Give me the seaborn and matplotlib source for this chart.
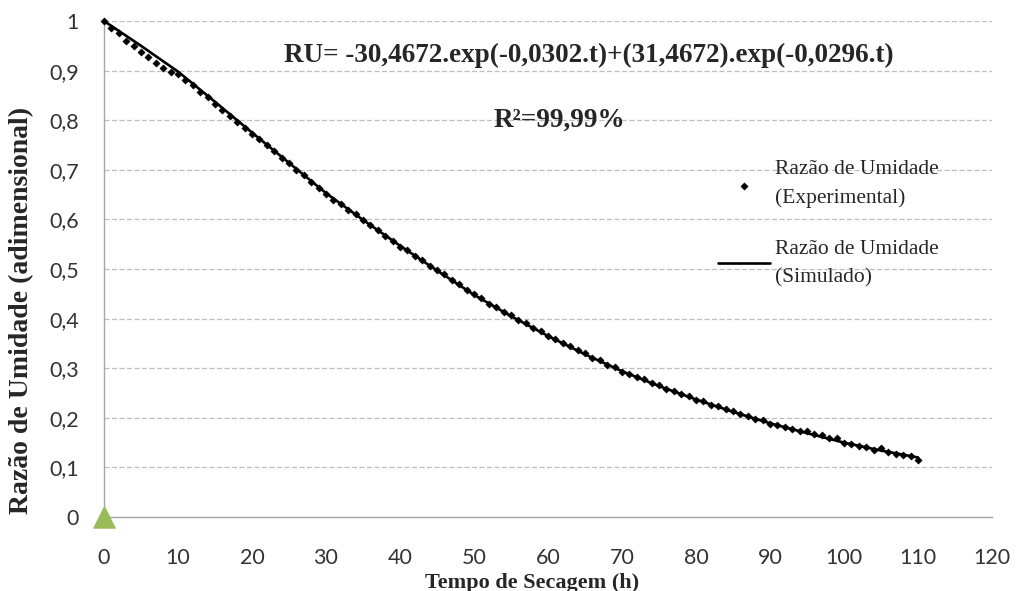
import numpy as np
import pandas as pd
import matplotlib
matplotlib.use("Agg")
import matplotlib.pyplot as plt
import seaborn as sns

# Experimental moisture ratio, one reading per hour (0..110 h)
exp_time = list(range(0, 111))
exp_ru = [
    1.000, 0.985, 0.975, 0.960, 0.950, 0.938, 0.928, 0.915, 0.906, 0.898,
    0.893, 0.882, 0.870, 0.857, 0.846, 0.833, 0.821, 0.809, 0.797, 0.785,
    0.773, 0.762, 0.749, 0.737, 0.724, 0.713, 0.700, 0.689, 0.676, 0.664,
    0.652, 0.640, 0.631, 0.619, 0.610, 0.598, 0.588, 0.578, 0.566, 0.557,
    0.545, 0.538, 0.526, 0.518, 0.506, 0.497, 0.489, 0.477, 0.469, 0.457,
    0.449, 0.441, 0.430, 0.424, 0.414, 0.408, 0.397, 0.391, 0.381, 0.374,
    0.364, 0.359, 0.350, 0.345, 0.336, 0.331, 0.321, 0.316, 0.307, 0.302,
    0.293, 0.289, 0.282, 0.278, 0.270, 0.267, 0.259, 0.255, 0.247, 0.244,
    0.236, 0.233, 0.226, 0.224, 0.217, 0.214, 0.207, 0.204, 0.198, 0.195,
    0.188, 0.186, 0.181, 0.178, 0.173, 0.174, 0.168, 0.166, 0.160, 0.159,
    0.149, 0.148, 0.143, 0.141, 0.136, 0.139, 0.131, 0.127, 0.125, 0.123,
    0.114,
]

# Simulated curve
sim_time = [0, 5, 10, 15, 20, 25, 30, 35, 40, 45, 50, 55,
            60, 65, 70, 75, 80, 85, 90, 95, 100, 105, 110]
sim_ru = [1.000, 0.950, 0.898, 0.837, 0.775, 0.714, 0.653, 0.599, 0.547,
          0.497, 0.448, 0.405, 0.365, 0.328, 0.294, 0.264, 0.237, 0.212,
          0.189, 0.169, 0.150, 0.134, 0.120]

# stray marker sitting at the origin in the original sheet
extra_time = [0]
extra_ru = [0]

x_ticks = list(range(0, 121, 10))
y_ticks = [0, 0.1, 0.2, 0.3, 0.4, 0.5, 0.6, 0.7, 0.8, 0.9, 1.0]
y_tick_labels = ["0", "0,1", "0,2", "0,3", "0,4", "0,5", "0,6", "0,7", "0,8", "0,9", "1"]

exp_df = pd.DataFrame({"t": exp_time, "ru": exp_ru})
sim_df = pd.DataFrame({"t": sim_time, "ru": sim_ru})

sns.set_style("white")
plt.rcParams["font.family"] = ["Lato", "DejaVu Sans"]

W, H = 1020, 591
fig = plt.figure(figsize=(10.2, 5.91), dpi=100)
ax = fig.add_axes([104 / W, 1 - 517 / H, 888 / W, 496 / H])


def px_to_data(x):
    return (x - 104) / 888 * 120


sns.scatterplot(data=exp_df, x="t", y="ru", ax=ax, marker="D", s=14,
                color="black", edgecolor="black", linewidth=0.3,
                label="Razão de Umidade\n(Experimental)", clip_on=False, zorder=3)
sns.lineplot(data=sim_df, x="t", y="ru", ax=ax, color="black", linewidth=1.9,
             label="Razão de Umidade\n(Simulado)", zorder=4)
ax.scatter(extra_time, extra_ru, marker="^", s=230, color="#9BBB59",
           clip_on=False, zorder=5)

ax.set_xlim(0, 120)
ax.set_ylim(0, 1)
ax.set_xticks(x_ticks)
ax.set_xticklabels([str(v) for v in x_ticks], fontsize=15.5, color="#333333")
ax.set_yticks(y_ticks)
ax.set_yticklabels(y_tick_labels, fontsize=15.5, color="#333333")
ax.set_xlabel("")
ax.set_ylabel("")

for yv in y_ticks[1:]:
    ax.axhline(yv, color="#BFBFBF", linestyle=(0, (4, 2)), linewidth=0.9, zorder=1)

for side in ["top", "right"]:
    ax.spines[side].set_visible(False)
for side in ["left", "bottom"]:
    ax.spines[side].set_color("#A6A6A6")
    ax.spines[side].set_linewidth(1.0)

ax.tick_params(axis="x", direction="out", length=5, color="#A6A6A6", pad=17)
ax.tick_params(axis="y", length=0, pad=18, left=False)

serif = ["Liberation Serif", "DejaVu Serif"]
fig.text(22 / W, 1 - 310 / H, "Razão de Umidade (adimensional)", rotation=90,
         ha="center", va="center", fontsize=20, fontweight="bold", family=serif)
fig.text(532 / W, 1 - 583 / H, "Tempo de Secagem (h)", ha="center", va="center",
         fontsize=16, fontweight="bold", family=serif)

ax.text(px_to_data(589), 0.93,
        "RU= -30,4672.exp(-0,0302.t)+(31,4672).exp(-0,0296.t)",
        ha="center", va="center", fontsize=19.5, fontweight="bold", family=serif)
ax.text(px_to_data(559), 0.80, "R²=99,99%", ha="center", va="center",
        fontsize=19.5, fontweight="bold", family=serif)

handles, labels = ax.get_legend_handles_labels()
leg = ax.legend(handles[:2], labels[:2], loc="upper left",
                bbox_to_anchor=((718 - 104) / 888, 1 - (160 - 21) / 496),
                frameon=False, prop={"family": serif, "size": 15.5},
                handlelength=2.4, handletextpad=0.25, labelspacing=1.45,
                borderpad=0, borderaxespad=0)
for txt in leg.get_texts():
    txt.set_linespacing(1.65)

fig.savefig("out.png", dpi=100)
